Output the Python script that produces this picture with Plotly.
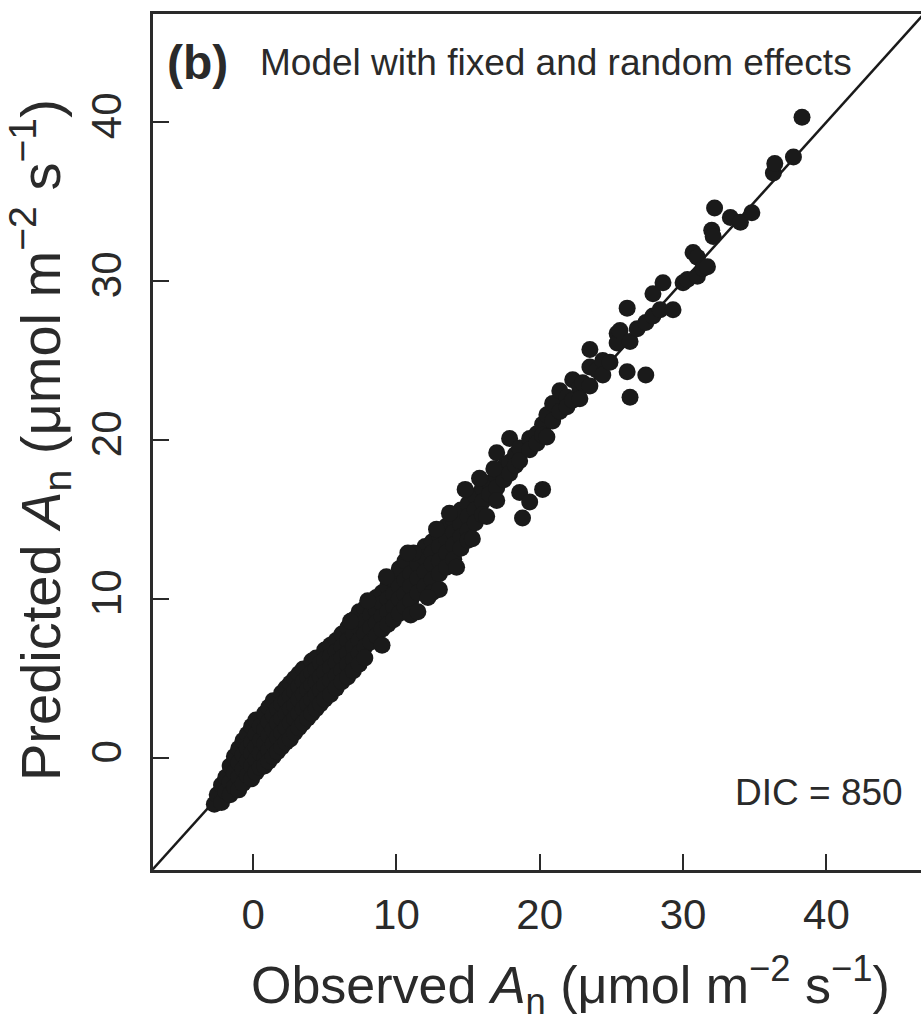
import plotly.graph_objects as go

# Observed vs predicted net photosynthesis (µmol m-2 s-1), grouped by observed value
observed = [
    -2.7, -2.5, -2.2, -2.2, -1.9, -1.9, -1.6, -1.6, -1.6, -1.3, -1.3, -1.3,
    -1.0, -1.0, -1.0, -1.0, -0.7, -0.7, -0.7, -0.7, -0.4, -0.4, -0.4, -0.4,
    -0.1, -0.1, -0.1, -0.1, -0.1, 0.2, 0.2, 0.2, 0.2, 0.2, 0.5, 0.5, 0.5, 0.5,
    0.8, 0.8, 0.8, 0.8, 0.8, 1.1, 1.1, 1.1, 1.1, 1.1, 1.4, 1.4, 1.4, 1.4, 1.4,
    1.7, 1.7, 1.7, 1.7, 2.0, 2.0, 2.0, 2.0, 2.0, 2.3, 2.3, 2.3, 2.3, 2.3,
    2.6, 2.6, 2.6, 2.6, 2.6, 2.9, 2.9, 2.9, 2.9, 2.9, 3.2, 3.2, 3.2, 3.2, 3.2,
    3.5, 3.5, 3.5, 3.5, 3.5, 3.8, 3.8, 3.8, 3.8, 4.1, 4.1, 4.1, 4.1, 4.1,
    4.4, 4.4, 4.4, 4.4, 4.4, 4.7, 4.7, 4.7, 4.7, 5.0, 5.0, 5.0, 5.0, 5.0,
    5.4, 5.4, 5.4, 5.4, 5.4, 5.8, 5.8, 5.8, 5.8, 5.8, 6.2, 6.2, 6.2, 6.2, 6.2,
    6.6, 6.6, 6.6, 6.6, 6.6, 7.0, 7.0, 7.0, 7.0, 7.0, 7.4, 7.4, 7.4, 7.4, 7.4,
    7.8, 7.8, 7.8, 7.8, 7.8, 8.2, 8.2, 8.2, 8.2, 8.6, 8.6, 8.6, 8.6,
    9.0, 9.0, 9.0, 9.0, 9.0, 9.4, 9.4, 9.4, 9.4, 9.8, 9.8, 9.8, 9.8,
    10.2, 10.2, 10.2, 10.2, 10.6, 10.6, 10.6, 10.6, 11.0, 11.0, 11.0, 11.0,
    11.5, 11.5, 11.5, 11.5, 12.0, 12.0, 12.0, 12.0, 12.5, 12.5, 12.5, 12.5, 12.5,
    13.0, 13.0, 13.0, 13.0, 13.0, 13.5, 13.5, 13.5, 13.5, 14.0, 14.0, 14.0, 14.0,
    14.5, 14.5, 14.5, 14.5, 15.0, 15.0, 15.0, 15.0, 15.5, 15.5, 15.5,
    16.0, 16.0, 16.0, 16.3, 16.5, 16.5, 17.0, 17.0, 17.0, 17.0, 17.5, 17.5,
    17.9, 17.9, 17.9, 18.3, 18.3, 18.6, 18.6, 18.6, 18.8, 19.3, 19.3, 19.3,
    19.8, 19.8, 20.2, 20.2, 20.2, 20.5, 20.5, 20.9, 20.9, 21.4, 21.4, 21.9, 21.9,
    22.3, 22.3, 22.8, 22.8, 23.0, 23.5, 23.5, 23.5, 24.0, 24.4, 24.4, 24.9,
    25.4, 25.4, 25.6, 26.1, 26.1, 26.3, 26.3, 26.8, 27.4, 27.4, 27.9, 27.9,
    28.4, 28.6, 29.3, 30.0, 30.3, 30.7, 31.0, 31.0, 31.4, 31.7, 32.0, 32.1,
    32.2, 33.3, 34.0, 34.8, 36.3, 36.4, 37.7, 38.3,
    11.2, 12.8, 13.7, 14.8, 15.3, 16.8, 12.2, 10.8, 9.3, 8.0, 6.8, 14.2, 15.8,
]
predicted = [
    -2.9, -2.3, -1.7, -2.8, -1.2, -2.1, -0.5, -1.5, -2.3, 0.1, -0.9, -1.8,
    0.6, -0.3, -1.2, -2.0, 1.1, 0.2, -0.7, -1.6, 1.5, 0.6, -0.2, -1.1,
    2.0, 1.0, 0.3, -0.5, -1.3, 2.4, 1.5, 0.7, -0.1, -0.9, 2.0, 1.1, 0.3, -0.6,
    2.8, 1.8, 0.9, 0.0, -0.5, 3.2, 2.3, 1.4, 0.5, -0.2, 3.6, 2.7, 1.8, 0.9, 0.1,
    3.1, 2.2, 1.3, 0.4, 4.1, 3.4, 2.5, 1.6, 0.7, 4.4, 3.6, 2.8, 1.9, 1.0,
    4.7, 3.9, 3.1, 2.2, 1.2, 5.0, 4.2, 3.3, 2.5, 1.6, 5.3, 4.5, 3.7, 2.8, 1.9,
    5.6, 4.8, 4.0, 3.1, 2.2, 5.1, 4.3, 3.4, 2.5, 6.1, 5.4, 4.6, 3.7, 2.8,
    6.3, 5.6, 4.8, 4.0, 3.1, 6.0, 5.1, 4.3, 3.4, 6.8, 6.2, 5.4, 4.6, 3.7,
    7.1, 6.4, 5.7, 4.9, 4.0, 7.4, 6.7, 6.0, 5.2, 4.4, 7.8, 7.0, 6.3, 5.5, 4.8,
    8.2, 7.4, 6.6, 5.9, 5.1, 8.7, 7.8, 7.0, 6.2, 5.5, 9.2, 8.2, 7.4, 6.6, 5.9,
    9.4, 8.6, 7.8, 7.0, 6.3, 9.8, 9.0, 8.2, 7.3, 10.1, 9.3, 8.5, 7.7,
    10.4, 9.7, 8.9, 8.1, 7.1, 10.8, 10.0, 9.2, 8.4, 11.2, 10.3, 9.5, 8.7,
    11.9, 10.8, 10.0, 9.1, 12.4, 11.2, 10.3, 9.5, 11.6, 10.8, 9.9, 9.0,
    12.2, 11.3, 10.4, 9.2, 13.3, 12.6, 11.7, 10.8, 13.6, 12.9, 12.2, 11.2, 10.4,
    14.0, 13.3, 12.4, 11.6, 10.6, 14.6, 13.8, 12.9, 12.0, 15.0, 14.2, 13.4, 12.5,
    15.6, 14.7, 13.9, 13.2, 16.0, 15.2, 14.3, 13.7, 16.5, 15.6, 14.8,
    17.0, 16.1, 15.3, 15.2, 17.3, 16.6, 19.2, 17.7, 17.0, 16.2, 18.3, 17.5,
    20.1, 18.6, 17.9, 19.1, 18.4, 16.7, 19.5, 18.7, 15.1, 16.1, 20.1, 19.4,
    20.4, 19.8, 16.9, 21.0, 20.3, 20.2, 21.6, 22.3, 21.2, 23.1, 21.8, 22.7, 22.1,
    23.8, 22.5, 23.3, 22.6, 23.6, 25.7, 24.6, 23.4, 24.4, 25.0, 24.1, 24.9,
    26.7, 26.1, 26.9, 28.3, 24.3, 22.7, 26.2, 27.0, 24.1, 27.4, 29.2, 27.8,
    28.2, 29.9, 28.2, 29.9, 30.1, 31.8, 30.3, 31.5, 30.8, 30.9, 33.2, 32.8,
    34.6, 34.0, 33.7, 34.3, 36.8, 37.4, 37.8, 40.3,
    12.9, 14.4, 15.4, 16.9, 13.8, 18.2, 10.1, 12.9, 11.4, 9.9, 8.6, 12.0, 17.6,
]

# 1:1 reference line end points
one_to_one = [-7, 47]

tick_values = [0, 10, 20, 30, 40]
tick_labels = ["0", "10", "20", "30", "40"]

FONT = "Liberation Sans, Arial, sans-serif"
INK = "#1a1a1a"
TEXT = "#2a2a2a"

fig = go.Figure()

fig.add_trace(go.Scatter(
    x=one_to_one, y=one_to_one, mode="lines",
    line=dict(color=INK, width=2.5), hoverinfo="skip", showlegend=False,
))

fig.add_trace(go.Scatter(
    x=observed, y=predicted, mode="markers",
    marker=dict(size=17, color=INK, line=dict(width=0)),
    showlegend=False,
))

axis_common = dict(
    showgrid=False, zeroline=False,
    showline=True, linecolor=TEXT, linewidth=2.5,
    ticks="inside", ticklen=16, tickwidth=2, tickcolor=TEXT,
    tickvals=tick_values, ticktext=tick_labels,
    tickfont=dict(family=FONT, size=42, color=TEXT),
)

fig.update_xaxes(range=[-6.98, 46.6], mirror=True, ticklabelstandoff=6, **axis_common)
fig.update_yaxes(range=[-7.04, 46.8], mirror=False, tickangle=-90, ticklabelstandoff=12, **axis_common)

fig.add_annotation(
    text="Observed <i>A</i><sub>n</sub> (μmol m<sup>−2</sup> s<sup>−1</sup>)",
    xref="paper", yref="paper", x=(570 - 153) / 768, y=(870 - 985) / 856,
    xanchor="center", yanchor="middle", showarrow=False,
    font=dict(family=FONT, size=52, color=TEXT),
)
fig.add_annotation(
    text="Predicted <i>A</i><sub>n</sub> (μmol m<sup>−2</sup> s<sup>−1</sup>)",
    xref="paper", yref="paper", x=(40 - 153) / 768, y=(870 - 440) / 856, textangle=-90,
    xanchor="center", yanchor="middle", showarrow=False,
    font=dict(family=FONT, size=56, color=TEXT),
)
fig.add_annotation(
    text="<b>(b)</b>", xref="paper", yref="paper",
    x=(165 - 153) / 768, y=(870 - 62) / 856,
    xanchor="left", yanchor="middle", showarrow=False,
    font=dict(family=FONT, size=48, color=TEXT),
)
fig.add_annotation(
    text="Model with fixed and random effects", xref="paper", yref="paper",
    x=(258 - 153) / 768, y=(870 - 62) / 856,
    xanchor="left", yanchor="middle", showarrow=False,
    font=dict(family=FONT, size=37, color=TEXT),
)
fig.add_annotation(
    text="DIC = 850", xref="paper", yref="paper",
    x=(905 - 153) / 768, y=(870 - 792) / 856,
    xanchor="right", yanchor="middle", showarrow=False,
    font=dict(family=FONT, size=37, color=TEXT),
)

fig.update_layout(
    width=921, height=1029,
    margin=dict(l=153, r=0, t=14, b=159),
    paper_bgcolor="white", plot_bgcolor="white",
)

fig.write_html("out.html")
